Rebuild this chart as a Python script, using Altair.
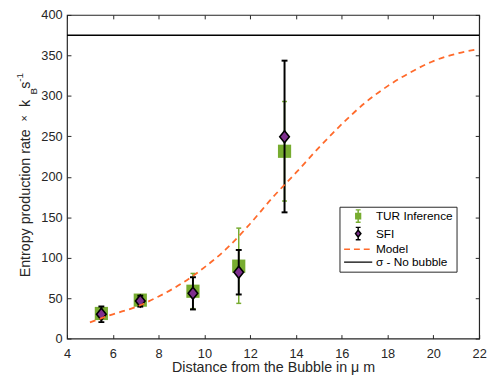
import altair as alt
import pandas as pd

# ---------------- data ----------------
tur_x = [5.5, 7.2, 9.5, 11.5, 13.5]
tur_y = [31.0, 47.5, 58.5, 89.5, 231.5]
tur_lo = [25.0, 43.0, 37.0, 43.5, 170.0]
tur_hi = [37.0, 52.0, 80.5, 136.5, 293.0]

sfi_x = [5.5, 7.2, 9.5, 11.5, 13.5]
sfi_y = [30.0, 46.5, 56.0, 82.0, 249.5]
sfi_lo = [20.3, 39.5, 36.0, 54.5, 156.0]
sfi_hi = [39.7, 53.0, 75.8, 109.5, 343.5]

model_x = [5, 6, 7, 8, 9, 10, 11, 12, 13, 14, 15, 16, 17, 18, 19, 20, 21, 21.8]
model_y = [20, 30, 39, 52, 68, 88, 112, 142, 175, 205, 236, 265, 291, 312, 329, 343, 352, 357]

sigma_nobubble = [375]

series = ["TUR Inference", "SFI", "Model", "σ - No bubble"]

x_ticks = [4, 6, 8, 10, 12, 14, 16, 18, 20, 22]
y_ticks = [0, 50, 100, 150, 200, 250, 300, 350, 400]

# ---------------- styling ----------------
GREEN = "#77AC30"
PURPLE = "#7E2F8E"
ORANGE = "#FF6A2B"
AX = "#262626"
FONT = "Liberation Sans"
W, H = 419, 329
TICK = 4

tur = pd.DataFrame({"x": tur_x, "y": tur_y, "lo": tur_lo, "hi": tur_hi})
sfi = pd.DataFrame({"x": sfi_x, "y": sfi_y, "lo": sfi_lo, "hi": sfi_hi})
model = pd.DataFrame({"x": model_x, "y": model_y})
sigma = pd.DataFrame({"s": sigma_nobubble})

xs = alt.Scale(domain=[4, 22], nice=False, zero=False)
ys = alt.Scale(domain=[0, 400], nice=False)


def x_axis():
    return alt.Axis(values=x_ticks, title="Distance from the Bubble in  μ m")


def y_axis():
    return alt.Axis(values=y_ticks, title=None)


def X(f="x"):
    return alt.X(f + ":Q", scale=xs, axis=x_axis())


def Y(f="y"):
    return alt.Y(f + ":Q", scale=ys, axis=y_axis())


tur_bar = alt.Chart(tur).mark_rule(color=GREEN, strokeWidth=1.5).encode(
    x=X(), y=Y("lo"), y2="hi:Q")
tur_cap_lo = alt.Chart(tur).mark_tick(color=GREEN, orient="horizontal", size=5,
                                      thickness=1.5, opacity=1).encode(x=X(), y=Y("lo"))
tur_cap_hi = alt.Chart(tur).mark_tick(color=GREEN, orient="horizontal", size=5,
                                      thickness=1.5, opacity=1).encode(x=X(), y=Y("hi"))
tur_pt = alt.Chart(tur).mark_square(color=GREEN, size=180, opacity=1).encode(x=X(), y=Y())

sfi_bar = alt.Chart(sfi).mark_rule(color="black", strokeWidth=2).encode(
    x=X(), y=Y("lo"), y2="hi:Q")
sfi_cap_lo = alt.Chart(sfi).mark_tick(color="black", orient="horizontal", size=6,
                                      thickness=2, opacity=1).encode(x=X(), y=Y("lo"))
sfi_cap_hi = alt.Chart(sfi).mark_tick(color="black", orient="horizontal", size=6,
                                      thickness=2, opacity=1).encode(x=X(), y=Y("hi"))
diamond = "M0,-1L0.8,0L0,1L-0.8,0Z"
sfi_pt = alt.Chart(sfi).mark_point(shape=diamond, filled=True, fill=PURPLE,
                                   stroke="black", strokeWidth=1.6, size=150,
                                   opacity=1).encode(x=X(), y=Y())

model_line = alt.Chart(model).mark_line(color=ORANGE, strokeWidth=1.8,
                                        strokeDash=[6, 4.5],
                                        interpolate="monotone").encode(x=X(), y=Y())

sigma_line = alt.Chart(sigma).mark_rule(color="black", strokeWidth=1.6).encode(y=Y("s"))

# ---------------- legend (driven by scales, no visible data) ----------------
tur_path = ("M0,-1.15V1.15M-0.45,-1.15H0.45M-0.45,1.15H0.45"
            "M-0.44,-0.48H0.44V0.48H-0.44Z")
sfi_path = ("M0,-1.15V-0.64M0,0.64V1.15M-0.45,-1.15H0.45M-0.45,1.15H0.45"
            "M0,-0.64L0.5,0L0,0.64L-0.5,0Z")
line_path = "M-2.6,0H2.6"

leg = alt.Legend(title=None, orient="none", legendX=277, legendY=195,
                 padding=3, strokeColor=AX, fillColor="white",
                 labelFont=FONT, labelFontSize=12, labelColor="black",
                 symbolOffset=9.5, labelOffset=11.5, symbolSize=121,
                 symbolStrokeWidth=1.5, rowPadding=-1.2)
legend_layer = alt.Chart(pd.DataFrame({"series": series})).transform_filter(
    "false").mark_point(opacity=1).encode(
    shape=alt.Shape("series:N", scale=alt.Scale(
        domain=series, range=[tur_path, sfi_path, line_path, line_path]), legend=leg),
    fill=alt.Fill("series:N", scale=alt.Scale(
        domain=series, range=[GREEN, PURPLE, "transparent", "transparent"]), legend=leg),
    stroke=alt.Stroke("series:N", scale=alt.Scale(
        domain=series, range=[GREEN, "black", ORANGE, "black"]), legend=leg),
    strokeDash=alt.StrokeDash("series:N", scale=alt.Scale(
        domain=series, range=[[1, 0], [1, 0], [6, 4], [1, 0]]), legend=leg),
)

# ---------------- y-axis title pieces (k_B s^-1) ----------------
one = pd.DataFrame({"a": [0]})


def txt(s, x, y, size, align="center"):
    return alt.Chart(one).mark_text(text=s, angle=270, align=align,
                                    baseline="alphabetic", font=FONT,
                                    fontSize=size, color=AX).encode(
        x=alt.value(x), y=alt.value(y))


ytitle = [
    txt("Entropy production rate", -38, 191.5, 14.5),
    txt("×", -40, 105, 11),
    txt("k", -38, 90, 14.5),
    txt("B", -31, 77.5, 10),
    txt("s", -38, 71.5, 14.5),
    txt("-1", -45, 63.5, 10),
]

chart = alt.layer(
    tur_bar, tur_cap_lo, tur_cap_hi, tur_pt,
    sfi_bar, sfi_cap_lo, sfi_cap_hi, sfi_pt,
    model_line, sigma_line, legend_layer, *ytitle
).properties(
    width=W, height=H,
    background="white",
    autosize=alt.AutoSizeParams(type="none"),
    padding={"left": 60, "top": 4, "right": 10, "bottom": 35},
).configure_view(
    stroke=AX, strokeWidth=1.2
).configure_axis(
    domain=False, ticks=False, grid=True, gridColor=AX, gridOpacity=1,
    gridWidth=1, labelFlush=False, labelFont=FONT, labelFontSize=13,
    labelColor=AX, titleFont=FONT, titleFontSize=14.5,
    titleFontWeight="normal", titleColor=AX,
).configure_axisX(
    gridDash=[TICK, H - 2 * TICK, TICK, 2000], labelPadding=9, titlePadding=1,
).configure_axisY(
    gridDash=[TICK, W - 2 * TICK, TICK, 2000], labelPadding=5,
)

chart.save("out.html", embed_options={"renderer": "svg", "actions": False})
